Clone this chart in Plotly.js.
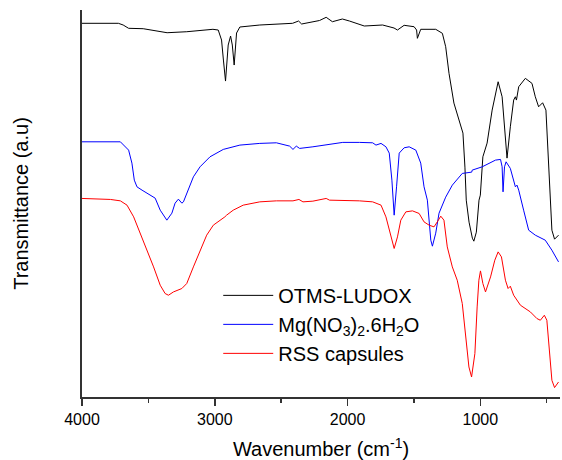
<!DOCTYPE html>
<html>
<head>
<meta charset="utf-8">
<script src="https://cdn.plot.ly/plotly-3.0.1.min.js"></script>
<style>html,body{margin:0;padding:0;background:#fff;}#chart{width:562px;height:460px;}</style>
</head>
<body>
<div id="chart"></div>
<script>
// Wavenumbers (cm-1) and transmittance (a.u., vertically offset spectra)
const otmsWavenumber = [4000,3726,3690,3649,3539,3450,3359,3211,3014,2974,2949,2935,2919,2899,2881,2868,2854,2836,2811,2661,2414,2369,2346,2211,2161,2114,2039,1986,1911,1874,1736,1650,1624,1574,1499,1480,1474,1449,1336,1286,1261,1236,1199,1161,1131,1116,1106,1085,1060,1049,1030,1010,1000,981,949,911,866,836,811,799,774,749,736,728,711,661,611,586,561,531,506,486,474,461,441,411];
const otmsTransmittance = [376.7,376.7,375,371.7,371.3,369,367.3,368.3,370.7,370,360,340,319,355,364,355,335,367,373,375,376.7,379,376,379.5,382.7,378.3,381,379,375.7,374,375,372,370,374.7,373.3,370,361.7,370.7,370.7,366.7,353.3,326.7,297,280,267,233,200,178,162,159,168,200,205,243.3,257,290,318.3,303.3,260,242,273.3,300,303.3,300,313.3,321.7,316.7,303.3,293.3,297.3,290,233.3,200,170,161,165];

const mgWavenumber = [4000,3711,3649,3624,3606,3586,3548,3486,3449,3411,3361,3323,3299,3274,3248,3236,3199,3161,3111,3036,2936,2811,2661,2536,2436,2411,2386,2361,2261,2161,2036,1911,1811,1786,1748,1711,1686,1666,1649,1631,1611,1574,1536,1486,1449,1424,1399,1373,1361,1336,1311,1261,1211,1136,1073,1065,1061,986,886,848,836,829,818,806,774,749,736,724,711,674,636,586,511,461,411];
const mgTransmittance = [258.3,258.3,250,237,220,213.3,210,205,202,190,180,187,197,201,197,198.3,210,223.3,233.3,243.3,250.7,255,256.7,257.3,254,250.7,254,251.7,253.3,255,257.7,257.7,257.3,255,256.7,253.3,247,220,185,213.3,247,252.3,253.3,250,237,213.3,200,160,154,167,187,203,215,226.7,228.3,228,230,233.3,240,240.7,233.3,208.3,233.3,238.3,231.7,218.3,213.3,215,210,190,170,165,160,150,138.3];

const rssWavenumber = [4000,3786,3711,3661,3611,3561,3511,3461,3411,3374,3349,3311,3248,3211,3161,3111,3061,3011,2948,2924,2911,2861,2786,2661,2536,2411,2366,2336,2261,2161,2136,2036,1911,1811,1748,1711,1674,1649,1624,1599,1561,1511,1461,1424,1386,1349,1324,1298,1274,1249,1211,1174,1136,1111,1086,1066,1041,1024,1011,999,981,961,923,891,866,841,811,791,774,749,698,623,574,548,518,499,481,461,441,411];
const rssTransmittance = [201.7,200.7,199.3,195,183.3,167,150,133.3,115,106.7,105,108.3,111.7,116.7,133.3,150,165,175,180.7,183.3,185,190,195,198.3,199.3,199.3,200.7,198.3,199,201.7,200,200,199.3,198.3,195,183.3,163.3,151.7,163.3,180,188.3,189.3,186.7,178.3,175,173.3,178.3,184,180,153.3,133.3,120,96.7,63.3,33.3,23.3,46.7,93.3,120,129.3,116.7,108.3,123.3,140,148.3,143.3,120,111.7,114,105,95,88.3,81.7,80,85,80,53.3,20,12.7,18.3];

const seriesNames = ['OTMS-LUDOX', 'Mg(NO<sub>3</sub>)<sub>2</sub>.6H<sub>2</sub>O', 'RSS capsules'];

const font = 'Liberation Sans, Arial, sans-serif';
const traces = [
  {x: otmsWavenumber, y: otmsTransmittance, name: seriesNames[0], mode: 'lines', line: {color: '#000000', width: 1}},
  {x: mgWavenumber, y: mgTransmittance, name: seriesNames[1], mode: 'lines', line: {color: '#0000ff', width: 1}},
  {x: rssWavenumber, y: rssTransmittance, name: seriesNames[2], mode: 'lines', line: {color: '#ff0000', width: 1}}
];

const layout = {
  width: 562, height: 460,
  margin: {l: 82, r: 2, t: 10, b: 63},
  paper_bgcolor: '#fff', plot_bgcolor: '#fff',
  font: {family: font, color: '#000'},
  showlegend: true,
  legend: {x: 0.285, y: 0.313, xanchor: 'left', yanchor: 'top', bgcolor: 'rgba(0,0,0,0)', font: {size: 20, family: font}, itemwidth: 50, tracegroupgap: 0},
  xaxis: {
    range: [4000, 400], autorange: false,
    tick0: 0, dtick: 1000, ticks: 'outside', ticklen: 7, tickwidth: 1.5, tickcolor: '#333',
    minor: {dtick: 500, ticks: 'outside', ticklen: 4, tickwidth: 1.5, tickcolor: '#333'},
    showline: true, linecolor: '#333', linewidth: 1.6, mirror: false,
    showgrid: false, zeroline: false,
    tickfont: {size: 16, family: font, color: '#000'},
    title: {text: 'Wavenumber (cm<sup>-1</sup>)', font: {size: 20, family: font, color: '#000'}, standoff: 18}
  },
  yaxis: {
    range: [3.3, 390], autorange: false,
    showline: true, linecolor: '#333', linewidth: 1.6,
    ticks: '', showticklabels: false, showgrid: false, zeroline: false,
    title: {text: 'Transmittance (a.u)', font: {size: 20, family: font, color: '#000'}, standoff: 46}
  }
};

Plotly.newPlot('chart', traces, layout, {displayModeBar: false, staticPlot: true});
</script>
</body>
</html>
